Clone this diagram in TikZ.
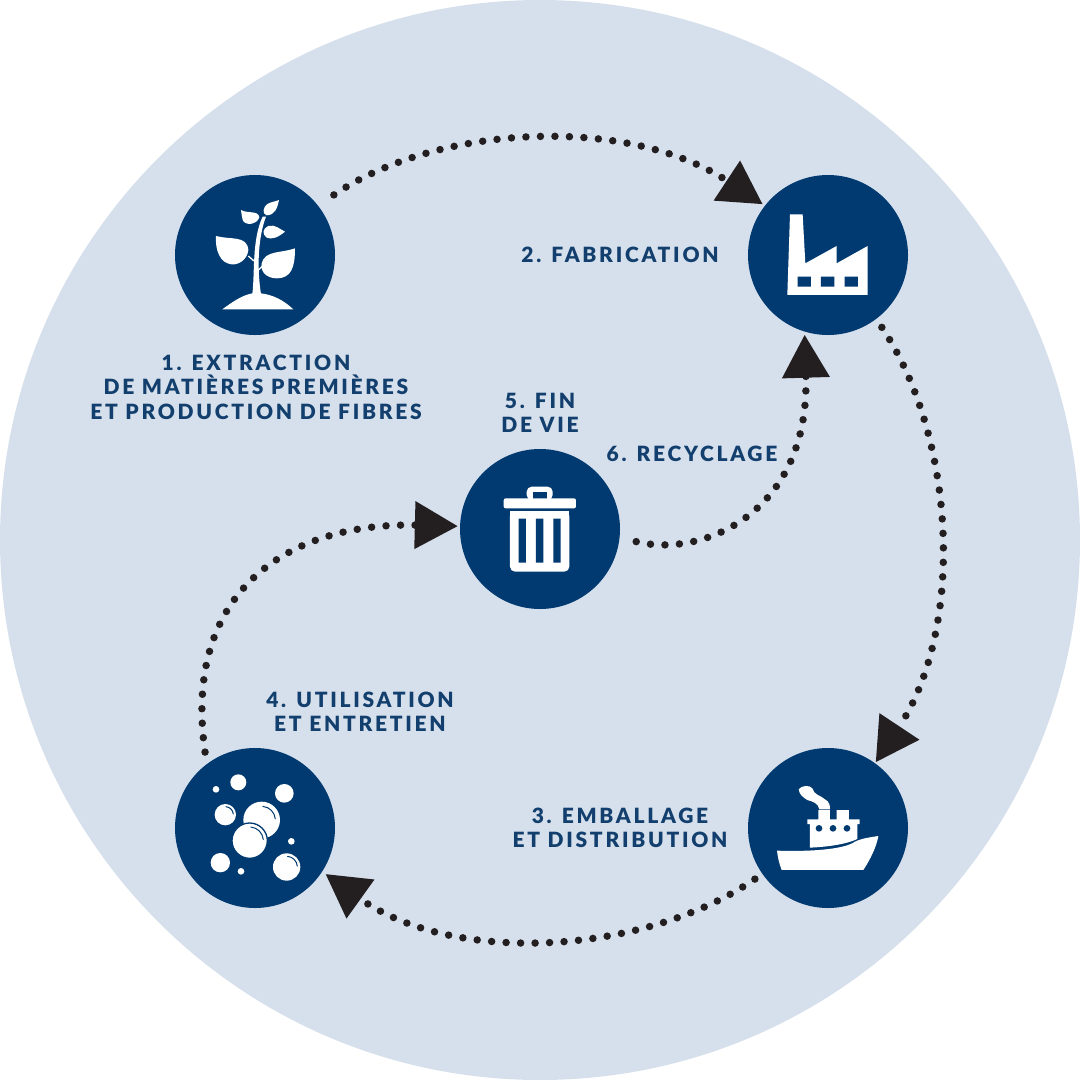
\documentclass[tikz,border=0pt]{standalone}
\usepackage{fontspec}
\setmainfont[LetterSpace=13,BoldFont={Lato Black}]{Lato}
\usetikzlibrary{arrows.meta}
\definecolor{navy}{HTML}{003A70}
\definecolor{disc}{HTML}{D6E0EC}
\definecolor{ink}{HTML}{231F20}
\definecolor{labelblue}{HTML}{123F6D}
\tikzset{
  stage/.style={circle,fill=navy,minimum size=160pt,inner sep=0pt},
  flow/.style={draw=ink,line width=7.5pt,line cap=round,dash pattern=on 0pt off 14.5pt,
    -{Triangle[length=43pt,width=46pt,fill=ink,color=ink]}},
  caption/.style={text=labelblue,align=center,inner sep=0pt,
    font=\fontsize{21}{24.5}\selectfont\bfseries},
  icon/.style={fill=white,draw=none},
  cut/.style={fill=navy,draw=none},
  gloss/.style={draw=navy,line width=1pt,line cap=round},
}
\begin{document}
\begin{tikzpicture}[x=1pt,y=-1pt]
\useasboundingbox (0,0) rectangle (1080,1080);
\fill[disc] (540,540) circle[radius=540];

\node[stage] (n1) at (255,255) {};
\node[stage] (n2) at (828,255) {};
\node[stage] (n3) at (828,828) {};
\node[stage] (n4) at (255,828) {};
\node[stage] (n5) at (540,529) {};

\draw[flow,shorten <=19pt,shorten >=2.5pt] (n1.38.7) .. controls (436,125) and (626,114) .. (n2.142);
\draw[flow,shorten <=10pt,shorten >=1pt] (n2.-53) .. controls (955,436) and (966,626) .. (n3.54);
\draw[flow,shorten <=9pt,shorten >=4pt] (n3.215.6) .. controls (644,955) and (454,966) .. (n4.-33.5);
\draw[flow,shorten <=12pt,shorten >=2pt] (n4.127) .. controls (182,590) and (290,522) .. (n5.178);
\draw[flow,shorten <=17pt,shorten >=3pt] (n5.-6) .. controls (700,558) and (810,515) .. (n2.253);

% plant
\begin{scope}[shift={(160,160)},scale=0.3333]
\fill[icon] (187,448) .. controls (225,420) and (250,405) .. (277,400) -- (303,400)
  .. controls (340,405) and (370,420) .. (400,448) -- cycle;
\fill[icon] (277,402) .. controls (285,340) and (275,240) .. (308,170) -- (318,170)
  .. controls (295,230) and (290,320) .. (303,402) -- cycle;
\fill[icon] (168,228) .. controls (210,240) and (262,225) .. (265,270)
  .. controls (262,300) and (235,315) .. (215,313) .. controls (180,310) and (165,270) .. (168,228) -- cycle;
\fill[icon] (405,265) .. controls (405,320) and (395,355) .. (350,355)
  .. controls (320,355) and (300,335) .. (305,310) .. controls (315,270) and (365,280) .. (405,265) -- cycle;
\fill[icon] (243,150) .. controls (265,162) and (295,150) .. (298,172)
  .. controls (290,195) and (255,198) .. (248,180) .. controls (245,170) and (245,160) .. (243,150) -- cycle;
\fill[icon] (357,120) .. controls (352,145) and (345,165) .. (320,166)
  .. controls (305,162) and (310,140) .. (322,132) .. controls (335,125) and (345,125) .. (357,120) -- cycle;
\fill[icon] (375,215) .. controls (355,232) and (335,240) .. (320,233)
  .. controls (305,222) and (308,205) .. (325,198) .. controls (345,192) and (360,208) .. (375,215) -- cycle;
\draw[white,line width=1.3pt] (265,288) -- (282,303) (293,332) -- (306,320);
\end{scope}

% factory
\begin{scope}[shift={(730,160)},scale=0.3333]
\fill[icon] (180,163) -- (218,163) -- (226,310) -- (320,258) -- (320,310) -- (413,258)
  -- (413,405) -- (172,405) -- cycle;
\fill[cut] (203,350) rectangle (243,380) (273,350) rectangle (313,380) (344,350) rectangle (384,380);
\end{scope}

% ship
\begin{scope}[shift={(730,740)},scale=0.3333]
\fill[icon] (240,323) -- (240,252) -- (232,252) -- (232,238) -- (265,238) -- (265,210) -- (300,210)
  -- (300,238) -- (320,238) -- (320,210) -- (357,210) -- (357,238) -- (389,238) -- (389,252)
  -- (382,252) -- (382,297) .. controls (350,312) and (300,320) .. (240,323) -- cycle;
\fill[icon] (141,332) .. controls (230,335) and (340,330) .. (375,305)
  .. controls (395,295) and (420,292) .. (445,288)
  .. controls (440,320) and (420,360) .. (400,390) -- (155,390) .. controls (148,372) and (143,352) .. (141,332) -- cycle;
\fill[cut] (267,265) circle[radius=10] (309,265) circle[radius=10] (351,265) circle[radius=10];
\fill[icon] (206,148) .. controls (215,135) and (240,135) .. (247,145) .. controls (252,165) and (270,165) .. (285,178)
  .. controls (298,185) and (300,195) .. (300,208) -- (268,208) .. controls (265,190) and (250,185) .. (232,180)
  .. controls (220,172) and (208,165) .. (206,148) -- cycle;
\end{scope}

% bubbles
\begin{scope}[shift={(160,740)},scale=0.3333]
\fill[icon] (235,127) circle[radius=24] (168,148) circle[radius=10] (373,160) circle[radius=28]
  (196,224) circle[radius=32] (305,240) circle[radius=55] (394,304) circle[radius=10]
  (181,368) circle[radius=29] (243,394) circle[radius=10] (380,381) circle[radius=41];
\fill[icon,draw=navy,line width=1.3pt] (269,302) circle[radius=53];
\draw[gloss] (196,224) ++(-85:24) arc[start angle=-85,end angle=-5,radius=24];
\draw[gloss] (305,240) ++(-85:41) arc[start angle=-85,end angle=-5,radius=41];
\draw[gloss] (269,302) ++(-85:41) arc[start angle=-85,end angle=-5,radius=41];
\draw[gloss] (380,381) ++(-85:32) arc[start angle=-85,end angle=-5,radius=32];
\end{scope}

% bin
\begin{scope}[shift={(450,440)},scale=0.3333]
\fill[icon,rounded corners=5pt] (230,180) -- (230,140) -- (308,140) -- (308,180) -- cycle;
\fill[cut] (248,156) rectangle (290,176);
\fill[icon,rounded corners=2pt] (161,175) rectangle (378,205);
\fill[icon,rounded corners=5pt] (180,213) rectangle (358,395);
\fill[icon] (180,213) rectangle (358,260);
\fill[cut] (206,236) rectangle (228,368) (258,236) rectangle (280,368) (310,236) rectangle (332,368);
\end{scope}

\node[caption] (t1) at (256,387) {1. EXTRACTION\\DE MATIÈRES PREMIÈRES\\ET PRODUCTION DE FIBRES};
\node[caption] (t2) at (620,255) {2. FABRICATION};
\node[caption] (t3) at (620,828) {3. EMBALLAGE\\ET DISTRIBUTION};
\node[caption] (t4) at (360,712) {4. UTILISATION\\ET ENTRETIEN};
\node[caption] (t5) at (540,413) {5. FIN\\DE VIE};
\node[caption] (t6) at (692,454) {6. RECYCLAGE};
\end{tikzpicture}
\end{document}
